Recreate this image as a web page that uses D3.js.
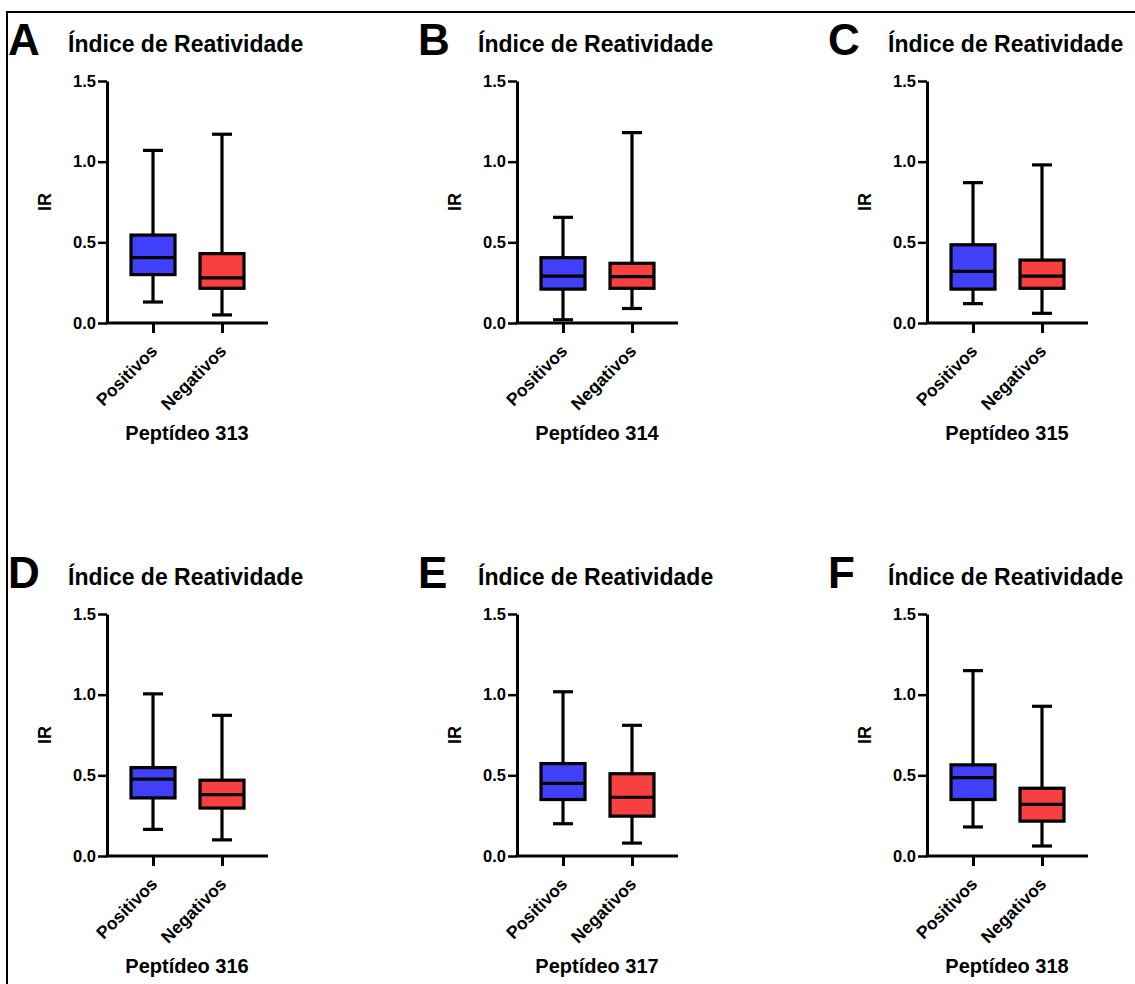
<!DOCTYPE html>
<html>
<head>
<meta charset="utf-8">
<script src="https://cdn.jsdelivr.net/npm/d3@7/dist/d3.min.js"></script>
<style>
  html, body { margin: 0; padding: 0; background: #fff; }
  svg { display: block; font-family: Arial, "Liberation Sans", Helvetica, sans-serif; }
</style>
</head>
<body>
<svg id="chart" width="1135" height="984"></svg>
<script>
// ---- Data ----
const panelLetters = ["A", "B", "C", "D", "E", "F"];
const panelTitle = "Índice de Reatividade";
const peptides = ["Peptídeo 313", "Peptídeo 314", "Peptídeo 315", "Peptídeo 316", "Peptídeo 317", "Peptídeo 318"];
const categories = ["Positivos", "Negativos"];
const yTicks = [0, 0.5, 1.0, 1.5];
const yLabel = "IR";

// Positivos: min, Q1, median, Q3, max per peptide
const posMin = [0.13, 0.02, 0.12, 0.165, 0.20, 0.18];
const posQ1  = [0.30, 0.21, 0.21, 0.36, 0.35, 0.35];
const posMed = [0.405, 0.29, 0.32, 0.476, 0.45, 0.486];
const posQ3  = [0.545, 0.405, 0.485, 0.548, 0.573, 0.565];
const posMax = [1.07, 0.655, 0.87, 1.005, 1.018, 1.149];

// Negativos: min, Q1, median, Q3, max per peptide
const negMin = [0.05, 0.09, 0.06, 0.10, 0.08, 0.062];
const negQ1  = [0.215, 0.215, 0.215, 0.297, 0.247, 0.216];
const negMed = [0.28, 0.287, 0.29, 0.38, 0.364, 0.32];
const negQ3  = [0.43, 0.37, 0.39, 0.47, 0.51, 0.42];
const negMax = [1.17, 1.18, 0.98, 0.872, 0.81, 0.928];

const colors = { Positivos: "#4040f8", Negativos: "#f84040" };

// ---- Drawing ----
const svg = d3.select("#chart");

// outer frame (only top/left visible in original)
svg.append("rect")
  .attr("x", 7).attr("y", 12)
  .attr("width", 1200).attr("height", 1100)
  .attr("fill", "none").attr("stroke", "#000").attr("stroke-width", 2);

const FONT = 'Arial, "Liberation Sans", Helvetica, sans-serif';

panelLetters.forEach((letter, i) => {
  const col = i % 3, row = Math.floor(i / 3);
  const ax = 107 + col * 410;
  const y0 = 323 + row * 533;
  const yTop = 81 + row * 533;
  const axisLen = 161;

  const g = svg.append("g");

  const y = d3.scaleLinear().domain([0, 1.5]).range([y0, yTop]);
  const x = d3.scalePoint().domain(categories).range([ax, ax + axisLen]).padding(0.667);

  // Letter
  g.append("text").attr("x", ax - 99).attr("y", y0 - 268)
    .attr("font-size", 44).attr("font-weight", "bold").attr("font-family", FONT)
    .text(letter);

  // Title
  g.append("text").attr("x", ax - 39).attr("y", y0 - 271)
    .attr("font-size", 23).attr("font-weight", "bold").attr("font-family", FONT)
    .text(panelTitle);

  // Y axis
  const yAxis = g.append("g").attr("transform", `translate(${ax},0)`)
    .call(d3.axisLeft(y).tickValues(yTicks).tickFormat(d3.format(".1f")).tickSize(9).tickSizeOuter(0).tickPadding(2));
  yAxis.select(".domain").attr("stroke-width", 3).attr("stroke", "#000");
  yAxis.selectAll(".tick line").attr("stroke-width", 2.5).attr("stroke", "#000");
  yAxis.selectAll(".tick text").attr("font-size", 16.5).attr("font-weight", "bold")
    .attr("font-family", FONT).attr("fill", "#000");

  // X axis
  const xAxis = g.append("g").attr("transform", `translate(0,${y0})`)
    .call(d3.axisBottom(x).tickSize(10).tickSizeOuter(0));
  xAxis.select(".domain").attr("stroke-width", 3).attr("stroke", "#000")
    .attr("d", `M${ax - 1.5},0H${ax + axisLen}`);
  xAxis.selectAll(".tick line").attr("stroke-width", 3).attr("stroke", "#000");
  xAxis.selectAll(".tick text")
    .attr("x", 0).attr("y", 0).attr("dy", 0)
    .attr("transform", "translate(5,29) rotate(-45)")
    .attr("text-anchor", "end")
    .attr("font-size", 17.5).attr("font-weight", "bold")
    .attr("font-family", FONT).attr("fill", "#000");

  // Y label
  g.append("text")
    .attr("transform", `translate(${ax - 62},${(y0 + yTop) / 2}) rotate(-90)`)
    .attr("text-anchor", "middle").attr("dominant-baseline", "central")
    .attr("font-size", 18).attr("font-weight", "bold").attr("font-family", FONT)
    .text(yLabel);

  // X label
  g.append("text").attr("x", ax + 80).attr("y", y0 + 117)
    .attr("text-anchor", "middle")
    .attr("font-size", 20).attr("font-weight", "bold").attr("font-family", FONT)
    .text(peptides[i]);

  // Boxes
  const stats = [
    { cat: "Positivos", min: posMin[i], q1: posQ1[i], med: posMed[i], q3: posQ3[i], max: posMax[i] },
    { cat: "Negativos", min: negMin[i], q1: negQ1[i], med: negMed[i], q3: negQ3[i], max: negMax[i] }
  ];
  const boxW = 44, capW = 20;
  stats.forEach(s => {
    const cx = x(s.cat);
    const bg = g.append("g").attr("stroke", "#000").attr("stroke-width", 3.2);
    // whiskers
    bg.append("line").attr("x1", cx).attr("x2", cx).attr("y1", y(s.max)).attr("y2", y(s.q3));
    bg.append("line").attr("x1", cx).attr("x2", cx).attr("y1", y(s.q1)).attr("y2", y(s.min));
    bg.append("line").attr("x1", cx - capW / 2).attr("x2", cx + capW / 2).attr("y1", y(s.max)).attr("y2", y(s.max));
    bg.append("line").attr("x1", cx - capW / 2).attr("x2", cx + capW / 2).attr("y1", y(s.min)).attr("y2", y(s.min));
    // box
    bg.append("rect").attr("x", cx - boxW / 2).attr("y", y(s.q3))
      .attr("width", boxW).attr("height", y(s.q1) - y(s.q3))
      .attr("fill", colors[s.cat]);
    // median
    bg.append("line").attr("x1", cx - boxW / 2).attr("x2", cx + boxW / 2)
      .attr("y1", y(s.med)).attr("y2", y(s.med));
  });
});
</script>
</body>
</html>
